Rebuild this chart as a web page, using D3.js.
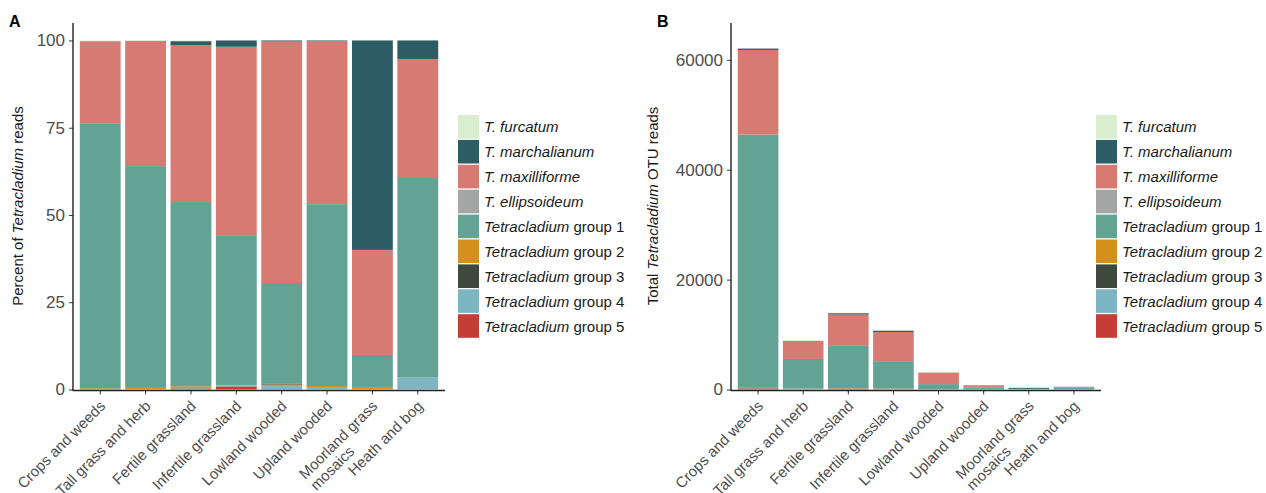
<!DOCTYPE html>
<html>
<head>
<meta charset="utf-8">
<script src="https://cdn.jsdelivr.net/npm/d3@7"></script>
<style>
  body { margin: 0; background: #fff; }
  svg { font-family: "Liberation Sans", Helvetica, Arial, sans-serif; }
  .tick text { fill: #4d4d4d; }
</style>
</head>
<body>
<div id="chart"></div>
<script>
// habitats on the x axis
var habitats = ["Crops and weeds", "Tall grass and herb", "Fertile grassland", "Infertile grassland",
  "Lowland wooded", "Upland wooded", "Moorland grass\nmosaics", "Heath and bog"]

// legend order (top to bottom); stacks are drawn in reverse (group 5 at the bottom)
var taxa = ["furc", "march", "maxi", "ellip", "g1", "g2", "g3", "g4", "g5"]
var taxaItalic = ["T. furcatum", "T. marchalianum", "T. maxilliforme", "T. ellipsoideum",
  "Tetracladium", "Tetracladium", "Tetracladium", "Tetracladium", "Tetracladium"]
var taxaPlain = ["", "", "", "", " group 1", " group 2", " group 3", " group 4", " group 5"]
var taxaColors = ["#d9eecf", "#2c5c64", "#d67a72", "#a3a6a4", "#63a393", "#d3901a", "#3d4a3b", "#7db6c2", "#c43e35"]

// panel A: percent of reads per habitat
var pctFurc  = [0.2, 0.1, 0.2, 0, 0, 0, 0, 0]
var pctMarch = [0.1, 0, 1.1, 1.8, 0.3, 0.2, 60.0, 5.3]
var pctMaxi  = [23.6, 35.9, 45.0, 54.2, 69.2, 46.7, 30.1, 34.1]
var pctEllip = [0, 0, 0, 0, 0, 0, 0, 0]
var pctG1    = [75.7, 63.3, 52.8, 42.7, 28.9, 52.1, 9.4, 57.1]
var pctG2    = [0.1, 0.6, 0.5, 0.1, 0.1, 0.4, 0.4, 0]
var pctG3    = [0.1, 0, 0, 0, 0.2, 0.1, 0, 0]
var pctG4    = [0.1, 0.1, 0.1, 0.3, 1.2, 0.5, 0.1, 3.5]
var pctG5    = [0.1, 0, 0.3, 0.9, 0.1, 0, 0, 0]

// panel B: total OTU reads per habitat
var readFurc  = [0, 150, 100, 60, 80, 0, 0, 0]
var readMarch = [250, 0, 250, 250, 20, 40, 180, 30]
var readMaxi  = [15400, 3300, 5700, 5300, 2100, 400, 80, 150]
var readEllip = [0, 0, 0, 0, 0, 0, 0, 0]
var readG1    = [46100, 5400, 7700, 5000, 900, 280, 30, 250]
var readG2    = [30, 60, 60, 80, 10, 20, 10, 10]
var readG3    = [20, 0, 0, 0, 10, 10, 0, 0]
var readG4    = [50, 100, 30, 30, 60, 20, 5, 20]
var readG5    = [200, 0, 150, 50, 0, 0, 0, 30]

var pctTicks = [0, 25, 50, 75, 100]
var readTicks = [0, 20000, 40000, 60000]

function toRows(series) {
  return habitats.map(function (h, i) {
    var row = { habitat: h }
    taxa.forEach(function (k) { row[k] = series[k][i] })
    return row
  })
}

var pctRows = toRows({ furc: pctFurc, march: pctMarch, maxi: pctMaxi, ellip: pctEllip,
  g1: pctG1, g2: pctG2, g3: pctG3, g4: pctG4, g5: pctG5 })
var readRows = toRows({ furc: readFurc, march: readMarch, maxi: readMaxi, ellip: readEllip,
  g1: readG1, g2: readG2, g3: readG3, g4: readG4, g5: readG5 })

var color = d3.scaleOrdinal().domain(taxa).range(taxaColors)

var svg = d3.select("#chart").append("svg")
  .attr("width", 1266)
  .attr("height", 493)

function drawPanel(o) {
  var g = svg.append("g")

  var x = d3.scaleBand().domain(habitats)
    .range([o.left, o.right]).paddingInner(0.1).paddingOuter(0.15)
  var y = d3.scaleLinear().domain([0, o.yMax]).range([389.5, 23])

  var stack = d3.stack().keys(taxa.slice().reverse())
  var layers = stack(o.rows)

  g.selectAll(".layer")
    .data(layers)
    .enter().append("g")
    .attr("fill", function (d) { return color(d.key) })
    .selectAll("rect")
    .data(function (d) { return d })
    .enter().append("rect")
    .attr("x", function (d) { return x(d.data.habitat) })
    .attr("width", x.bandwidth())
    .attr("y", function (d) { return y(d[1]) })
    .attr("height", function (d) { return Math.max(0, y(d[0]) - y(d[1])) })

  // y axis
  var yAxis = d3.axisLeft(y).tickValues(o.ticks).tickSize(4).tickPadding(4)
    .tickFormat(d3.format("d"))
  var ya = g.append("g")
    .attr("transform", "translate(" + o.left + ",0)")
    .call(yAxis)
  ya.select(".domain").remove()
  ya.selectAll(".tick line").attr("stroke", "#333")
  ya.selectAll(".tick text").attr("font-size", 17)
  g.append("line")
    .attr("x1", o.left).attr("x2", o.left)
    .attr("y1", 23).attr("y2", 391)
    .attr("stroke", "#222").attr("stroke-width", 1.4)

  // x axis
  var xa = g.append("g")
    .attr("transform", "translate(0,390.5)")
    .call(d3.axisBottom(x).tickSize(4).tickFormat(""))
  xa.select(".domain").remove()
  xa.selectAll(".tick line").attr("stroke", "#333")
  g.append("line")
    .attr("x1", o.left).attr("x2", o.right)
    .attr("y1", 390.5).attr("y2", 390.5)
    .attr("stroke", "#222").attr("stroke-width", 1.4)

  // rotated category labels, lines left-aligned within the block
  habitats.forEach(function (h) {
    var cx = x(h) + x.bandwidth() / 2
    var lines = h.split("\n")
    var t = g.append("text")
      .attr("transform", "translate(" + (cx + 6) + ",407) rotate(-45)")
      .attr("font-size", 15)
      .attr("fill", "#4d4d4d")
    var spans = lines.map(function (l, i) {
      return t.append("tspan").attr("dy", i === 0 ? 0 : "1.05em").text(l)
    })
    var w = d3.max(spans, function (s) { return s.node().getComputedTextLength() })
    spans.forEach(function (s) { s.attr("x", -w) })
  })

  // y title
  var title = g.append("text")
    .attr("transform", "translate(" + o.titleX + "," + 206 + ") rotate(-90)")
    .attr("text-anchor", "middle")
    .attr("font-size", 15)
    .attr("fill", "#1a1a1a")
  title.append("tspan").text(o.titleA)
  title.append("tspan").attr("font-style", "italic").text("Tetracladium")
  title.append("tspan").text(o.titleB)

  // panel letter
  g.append("text")
    .attr("x", o.letterX).attr("y", 27)
    .attr("font-size", 16).attr("font-weight", "bold")
    .text(o.letter)

  // legend
  var leg = g.append("g")
    .attr("transform", "translate(" + o.legendX + ",115)")
  var item = leg.selectAll(".item")
    .data(taxa)
    .enter().append("g")
    .attr("transform", function (d, i) { return "translate(0," + (i * 24.9) + ")" })
  item.append("rect")
    .attr("width", 21).attr("height", 23.6)
    .attr("fill", function (d) { return color(d) })
  var lt = item.append("text")
    .attr("x", 26).attr("y", 12).attr("dy", "0.36em")
    .attr("font-size", 15)
    .attr("fill", "#1a1a1a")
  lt.append("tspan").attr("font-style", "italic").text(function (d, i) { return taxaItalic[i] })
  lt.append("tspan").text(function (d, i) { return taxaPlain[i] })
}

drawPanel({
  rows: pctRows, left: 73, right: 445, yMax: 105, ticks: pctTicks,
  titleX: 23, titleA: "Percent of ", titleB: " reads",
  letter: "A", letterX: 9, legendX: 458
})

drawPanel({
  rows: readRows, left: 731, right: 1101,
  yMax: d3.max(readRows, function (r) { return d3.sum(taxa, function (k) { return r[k] }) }) * 1.075,
  ticks: readTicks,
  titleX: 658, titleA: "Total ", titleB: " OTU reads",
  letter: "B", letterX: 657, legendX: 1096
})
</script>
</body>
</html>
